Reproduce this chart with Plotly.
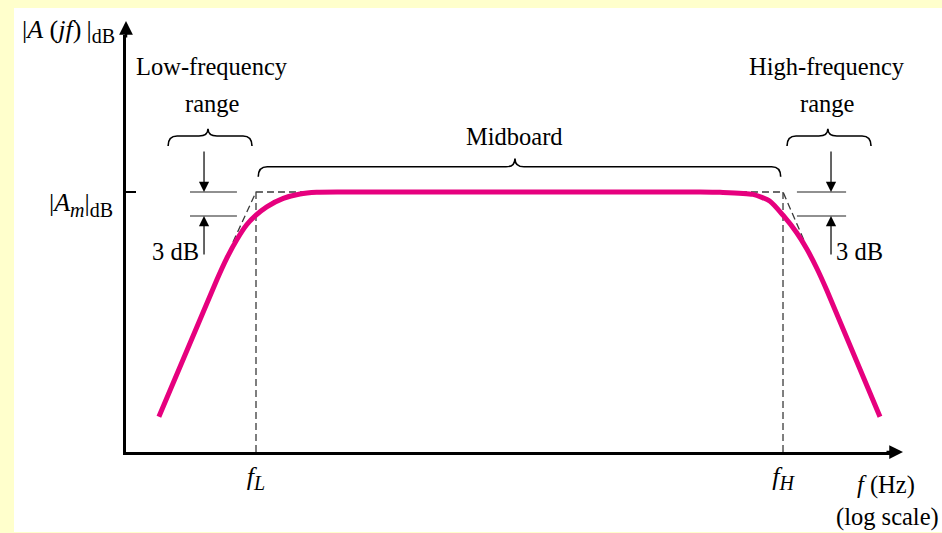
import numpy as np
import plotly.graph_objects as go

# ---------------- data ----------------
freq_hz = [28, 59.8, 68.1, 77.6, 88.5, 100, 115.1, 143, 178, 221.6, 300,
           1000, 10000, 33700, 43800, 67450, 84300, 100000, 119700, 136400,
           155500, 177300, 356500]
gain_db = [11.9, 29.0, 31.7, 34.0, 35.9, 37.1, 38.15, 39.2, 39.75, 39.96, 40.0,
           40.0, 40.0, 40.0, 39.96, 39.7, 38.85, 37.1, 34.9, 32.9,
           30.5, 27.75, 11.9]

f_L = 100
f_H = 100000
A_m_db = 40
drop_db = 3

asym_freq = [74, f_L, f_H, 133000]
asym_db = [33.75, A_m_db, A_m_db, 33.75]

SUB = "<sub><span style='font-size:20px'>{}</span></sub>"
x_tick_vals = [f_L, f_H]
x_tick_text = ["<i>f</i>" + SUB.format("<i>L</i>"), "<i>f</i>" + SUB.format("<i>H</i>")]
y_tick_vals = [A_m_db]
y_tick_text = ["|<i>A</i>" + SUB.format("<i>m</i>") + "|" + SUB.format("dB")]

# ---------------- layout geometry ----------------
W, H = 942, 533
ML, MR, MT, MB = 126, 47, 35, 81
PW, PH = W - ML - MR, H - MT - MB
XR = [1.26, 5.6375]          # log10 range
YR = [7.5, 59.625]           # dB range

FONT = "Liberation Serif, Times New Roman, serif"
PINK = "#E6007E"
DASH = "#3a3a3a"


def xp(f):
    return (np.log10(f) - XR[0]) / (XR[1] - XR[0])


def yp(v):
    return (v - YR[0]) / (YR[1] - YR[0])


def pxx(px):
    return (px - ML) / PW


def pxy(py):
    return (H - MB - py) / PH


def brace(f0, f1, fm, y_line, y_hook, y_cusp):
    x0, x1, xm = xp(f0), xp(f1), xp(fm)
    yl, yh, yc = yp(y_line), yp(y_hook), yp(y_cusp)
    r = 9 / PW
    return (f"M{x0},{yh} Q{x0},{yl} {x0 + r},{yl} L{xm - r},{yl} "
            f"Q{xm},{yl} {xm},{yc} Q{xm},{yl} {xm + r},{yl} "
            f"L{x1 - r},{yl} Q{x1},{yl} {x1},{yh}")


fig = go.Figure()

# dashed asymptotes and vertical markers
fig.add_trace(go.Scatter(x=asym_freq, y=asym_db, mode="lines",
                         line=dict(color=DASH, width=1.3, dash="7px,4px"),
                         hoverinfo="skip"))
fig.add_trace(go.Scatter(x=[f_L, f_L, None, f_H, f_H],
                         y=[A_m_db, YR[0], None, A_m_db, YR[0]], mode="lines",
                         line=dict(color=DASH, width=1.3, dash="7px,4px"),
                         hoverinfo="skip"))

# 3 dB reference lines
lo_span = [42.1, 77.9]
hi_span = [120000, 228600]
for span in (lo_span, hi_span):
    fig.add_trace(go.Scatter(x=[span[0], span[1], None, span[0], span[1]],
                             y=[A_m_db, A_m_db, None, A_m_db - drop_db, A_m_db - drop_db],
                             mode="lines", line=dict(color="#222", width=1.2),
                             hoverinfo="skip"))

# response curve
fig.add_trace(go.Scatter(x=freq_hz, y=gain_db, mode="lines",
                         line=dict(color=PINK, width=5, shape="spline", smoothing=0.6),
                         hoverinfo="skip"))

shapes = [
    dict(type="rect", xref="paper", yref="paper",
         x0=pxx(14), x1=pxx(W + 60), y0=pxy(532), y1=pxy(8),
         fillcolor="white", line=dict(width=0), layer="below"),
    dict(type="path", xref="paper", yref="paper",
         path=brace(31.6, 94.9, 53.3, 47.0, 45.75, 47.9),
         line=dict(color="black", width=1.6)),
    dict(type="path", xref="paper", yref="paper",
         path=brace(103, 97000, 2980, 43.15, 41.9, 44.2),
         line=dict(color="black", width=1.6)),
    dict(type="path", xref="paper", yref="paper",
         path=brace(105400, 317000, 180000, 47.0, 45.75, 47.9),
         line=dict(color="black", width=1.6)),
]

tf = dict(family=FONT, size=24.5, color="black")
mf = dict(family=FONT, size=26, color="black")
ann = []


def text(x, y, s, xref="x", yref="y", xanchor="center", yanchor="middle", font=tf):
    ann.append(dict(x=x, y=y, xref=xref, yref=yref, text=s, showarrow=False,
                    font=font, xanchor=xanchor, yanchor=yanchor))


text(np.log10(56.2), 55.75, "Low-frequency")
text(np.log10(56.2), 51.1, "range")
text(np.log10(178000), 55.75, "High-frequency")
text(np.log10(180000), 51.1, "range")
text(np.log10(2980), 46.9, "Midboard")
text(np.log10(34.6), 32.6, "3 dB")
text(np.log10(274000), 32.6, "3 dB")

text(pxx(117), pxy(31),
     "|<i>A</i> (<i>jf</i>)\u2009|" + SUB.format("dB"),
     xref="paper", yref="paper", xanchor="right", font=mf)
text(pxx(886), pxy(485), "<i>f</i> (Hz)", xref="paper", yref="paper")
text(pxx(887), pxy(517), "(log scale)", xref="paper", yref="paper")

# axis arrowheads
ann.append(dict(x=0, y=pxy(21), xref="paper", yref="paper", ax=0, ay=18,
                showarrow=True, arrowhead=2, arrowsize=1.1, arrowwidth=2.5,
                arrowcolor="black", text=""))
ann.append(dict(x=pxx(903), y=0, xref="paper", yref="paper", ax=-18, ay=0,
                showarrow=True, arrowhead=2, arrowsize=1.1, arrowwidth=2.5,
                arrowcolor="black", text=""))

# 3 dB arrows
for fx in (50.6, 187600):
    ann.append(dict(x=np.log10(fx), y=A_m_db, ax=0, ay=-42, showarrow=True,
                    arrowhead=2, arrowsize=1.7, arrowwidth=1.2,
                    arrowcolor="black", text=""))
    ann.append(dict(x=np.log10(fx), y=A_m_db - drop_db, ax=0, ay=40,
                    showarrow=True, arrowhead=2, arrowsize=1.7, arrowwidth=1.2,
                    arrowcolor="black", text=""))

fig.update_layout(
    width=W, height=H,
    margin=dict(l=ML, r=MR, t=MT, b=MB),
    paper_bgcolor="#FFFFCC",
    plot_bgcolor="white",
    showlegend=False,
    hovermode=False,
    shapes=shapes,
    annotations=ann,
    font=tf,
    xaxis=dict(type="log", range=XR, showgrid=False, zeroline=False,
               showline=True, linecolor="black", linewidth=2.5,
               tickmode="array", tickvals=x_tick_vals, ticktext=x_tick_text,
               ticks="", ticklabelstandoff=-1, tickfont=mf, fixedrange=True),
    yaxis=dict(range=YR, showgrid=False, zeroline=False,
               showline=True, linecolor="black", linewidth=2.5,
               tickmode="array", tickvals=y_tick_vals, ticktext=y_tick_text,
               ticks="inside", ticklen=10, tickwidth=1.5, tickcolor="black",
               ticklabelstandoff=5, ticklabelshift=10, tickfont=mf,
               fixedrange=True),
)

fig.write_html("out.html", config={"displayModeBar": False},
               post_script="document.body.style.margin='0';"
                           "document.body.style.overflow='hidden';")
